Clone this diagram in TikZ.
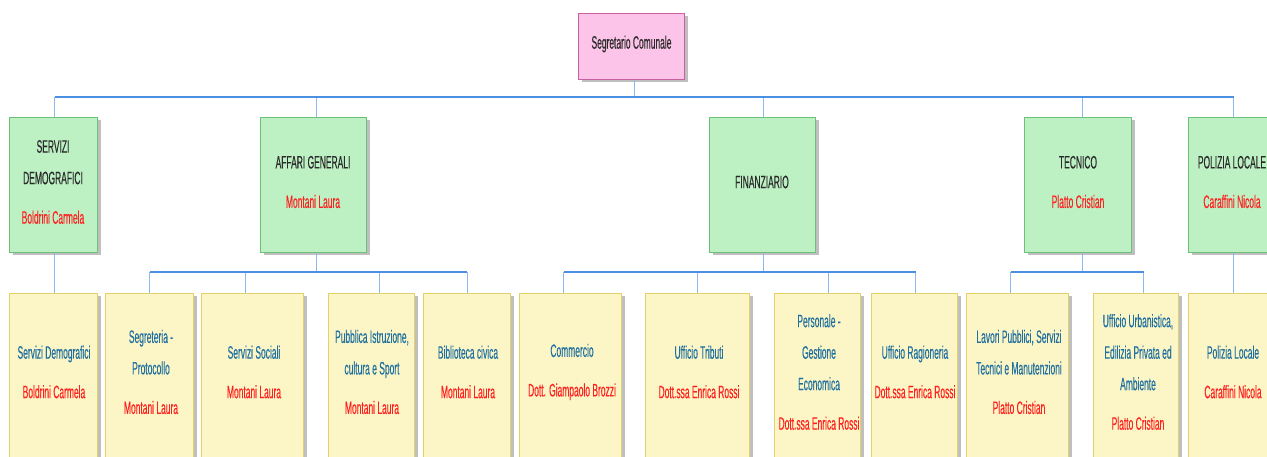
\documentclass[tikz,border=0pt]{standalone}
\usepackage{fontspec}
\setmainfont{Liberation Sans}
\newfontfamily\cond[FakeStretch=0.47,FakeBold=0.25]{Liberation Sans}
\usetikzlibrary{shadows}
\definecolor{gfill}{HTML}{BDF1C4}
\definecolor{gline}{HTML}{6CC07A}
\definecolor{yfill}{HTML}{FCF6C6}
\definecolor{yline}{HTML}{E3D26C}
\definecolor{pfill}{HTML}{FCC4E8}
\definecolor{pline}{HTML}{C8609F}
\definecolor{hblue}{HTML}{4A8FE0}
\definecolor{vblue}{HTML}{8DB9EE}
\definecolor{ttext}{HTML}{2A2A2A}
\definecolor{btext}{HTML}{2070A0}
\definecolor{rtext}{HTML}{FF2020}
\begin{document}
\begin{tikzpicture}[x=1pt,y=-1pt,
  boxbase/.style={draw,line width=1pt,anchor=north west,inner sep=0pt,
    drop shadow={shadow xshift=3pt,shadow yshift=-3pt,fill=black!50,opacity=0.5}},
  gbox/.style={boxbase,fill=gfill,draw=gline,minimum height=135pt},
  ybox/.style={boxbase,fill=yfill,draw=yline,minimum height=200pt},
  pbox/.style={boxbase,fill=pfill,draw=pline},
  txtbase/.style={align=center,inner sep=0pt,font=\cond\fontsize{18}{31.5}\selectfont},
  ttxt/.style={txtbase,text=ttext},
  btxt/.style={txtbase,text=btext},
  hconn/.style={draw=hblue,line width=1.3pt},
  vconn/.style={draw=vblue,line width=1pt}
]
\useasboundingbox (0,0) rectangle (1267,457);
\clip (0,0) rectangle (1267,457);
\fill[white] (0,0) rectangle (1267,457);

% root
\node[pbox,minimum width=106pt,minimum height=66pt] (root) at (578,13) {};
\node[ttxt] (roott) at (631.5,44) {Segretario Comunale};

% level 1
\node[gbox,minimum width=88pt]  (sd1)  at (9,117) {};
\node[gbox,minimum width=106pt] (ag1)  at (260,117) {};
\node[gbox,minimum width=106pt] (fin1) at (709,117) {};
\node[gbox,minimum width=107pt] (tec1) at (1024,117) {};
\node[gbox,minimum width=90pt]  (pl1)  at (1188,117) {};

\node[ttxt] (sd1t)  at (53,182)   {SERVIZI\\DEMOGRAFICI\\[8pt]\textcolor{rtext}{Boldrini Carmela}};
\node[ttxt] (ag1t)  at (313,182)  {AFFARI GENERALI\\[8pt]\textcolor{rtext}{Montani Laura}};
\node[ttxt] (fin1t) at (762,182)  {FINANZIARIO};
\node[ttxt] (tec1t) at (1078,182) {TECNICO\\[8pt]\textcolor{rtext}{Platto Cristian}};
\node[ttxt] (pl1t)  at (1232,182) {POLIZIA LOCALE\\[8pt]\textcolor{rtext}{Caraffini Nicola}};

% level 2
\node[ybox,minimum width=88pt]  (sd2) at (9,293) {};
\node[ybox,minimum width=88pt]  (seg) at (105,293) {};
\node[ybox,minimum width=102pt] (ss)  at (201,293) {};
\node[ybox,minimum width=86pt]  (pi)  at (328,293) {};
\node[ybox,minimum width=87pt]  (bib) at (423,293) {};
\node[ybox,minimum width=102pt] (com) at (519,293) {};
\node[ybox,minimum width=104pt] (ut)  at (645,293) {};
\node[ybox,minimum width=86pt]  (per) at (774,293) {};
\node[ybox,minimum width=86pt]  (rag) at (871,293) {};
\node[ybox,minimum width=102pt] (lav) at (966,293) {};
\node[ybox,minimum width=85pt]  (urb) at (1093,293) {};
\node[ybox,minimum width=90pt]  (pl2) at (1188,293) {};

\node[btxt] (sd2t) at (54,372)   {Servizi Demografici\\[8pt]\textcolor{rtext}{Boldrini Carmela}};
\node[btxt] (segt) at (151,372)  {Segreteria -\\Protocollo\\[8pt]\textcolor{rtext}{Montani Laura}};
\node[btxt] (sst)  at (254,372)  {Servizi Sociali\\[8pt]\textcolor{rtext}{Montani Laura}};
\node[btxt] (pit)  at (372,372)  {Pubblica Istruzione,\\cultura e Sport\\[8pt]\textcolor{rtext}{Montani Laura}};
\node[btxt] (bibt) at (468,372)  {Biblioteca civica\\[8pt]\textcolor{rtext}{Montani Laura}};
\node[btxt] (comt) at (572,372)  {Commercio\\[8pt]\textcolor{rtext}{Dott. Giampaolo Brozzi}};
\node[btxt] (utt)  at (699,372)  {Ufficio Tributi\\[8pt]\textcolor{rtext}{Dott.ssa Enrica Rossi}};
\node[btxt] (pert) at (819,372)  {Personale -\\Gestione\\Economica\\[8pt]\textcolor{rtext}{Dott.ssa Enrica Rossi}};
\node[btxt] (ragt) at (915,372)  {Ufficio Ragioneria\\[8pt]\textcolor{rtext}{Dott.ssa Enrica Rossi}};
\node[btxt] (lavt) at (1019,372) {Lavori Pubblici, Servizi\\Tecnici e Manutenzioni\\[8pt]\textcolor{rtext}{Platto Cristian}};
\node[btxt] (urbt) at (1138,372) {Ufficio Urbanistica,\\Edilizia Privata ed\\Ambiente\\[8pt]\textcolor{rtext}{Platto Cristian}};
\node[btxt] (pl2t) at (1233,372) {Polizia Locale\\[8pt]\textcolor{rtext}{Caraffini Nicola}};

% bus coordinates
\coordinate (busT) at (0,97);
\coordinate (busB) at (0,272);

% top level connectors
\draw[vconn] ([xshift=3pt]root.south) -- ([xshift=3pt]root.south |- busT);
\draw[vconn] ([xshift=1pt]sd1.north) -- ([xshift=1pt]sd1.north |- busT);
\draw[vconn] ([xshift=3pt]ag1.north) -- ([xshift=3pt]ag1.north |- busT);
\draw[vconn] ([xshift=1pt]fin1.north) -- ([xshift=1pt]fin1.north |- busT);
\draw[vconn] ([xshift=4.5pt]tec1.north) -- ([xshift=4.5pt]tec1.north |- busT);
\draw[vconn] (pl1.north) -- (pl1.north |- busT);
\draw[hconn] ([xshift=1pt]sd1.north |- busT) -- (pl1.north |- busT);

% direct connectors
\draw[vconn] ([xshift=1pt]sd1.south) -- ([xshift=1pt]sd2.north);
\draw[vconn] (pl1.south) -- (pl2.north);

% affari generali
\draw[vconn] ([xshift=3pt]ag1.south) -- ([xshift=3pt]ag1.south |- busB);
\draw[vconn] (seg.north) -- (seg.north |- busB);
\draw[vconn] ([xshift=-7pt]ss.north) -- ([xshift=-7pt]ss.north |- busB);
\draw[vconn] ([xshift=8pt]pi.north) -- ([xshift=8pt]pi.north |- busB);
\draw[vconn] (bib.north) -- (bib.north |- busB);
\draw[hconn] (seg.north |- busB) -- (bib.north |- busB);

% finanziario
\draw[vconn] ([xshift=1pt]fin1.south) -- ([xshift=1pt]fin1.south |- busB);
\draw[vconn] ([xshift=-7pt]com.north) -- ([xshift=-7pt]com.north |- busB);
\draw[vconn] (ut.north) -- (ut.north |- busB);
\draw[vconn] ([xshift=11pt]per.north) -- ([xshift=11pt]per.north |- busB);
\draw[vconn] ([xshift=1pt]rag.north) -- ([xshift=1pt]rag.north |- busB);
\draw[hconn] ([xshift=-7pt]com.north |- busB) -- ([xshift=1pt]rag.north |- busB);

% tecnico
\draw[vconn] ([xshift=4.5pt]tec1.south) -- ([xshift=4.5pt]tec1.south |- busB);
\draw[vconn] ([xshift=-7pt]lav.north) -- ([xshift=-7pt]lav.north |- busB);
\draw[vconn] ([xshift=7.5pt]urb.north) -- ([xshift=7.5pt]urb.north |- busB);
\draw[hconn] ([xshift=-7pt]lav.north |- busB) -- ([xshift=7.5pt]urb.north |- busB);
\end{tikzpicture}
\end{document}
